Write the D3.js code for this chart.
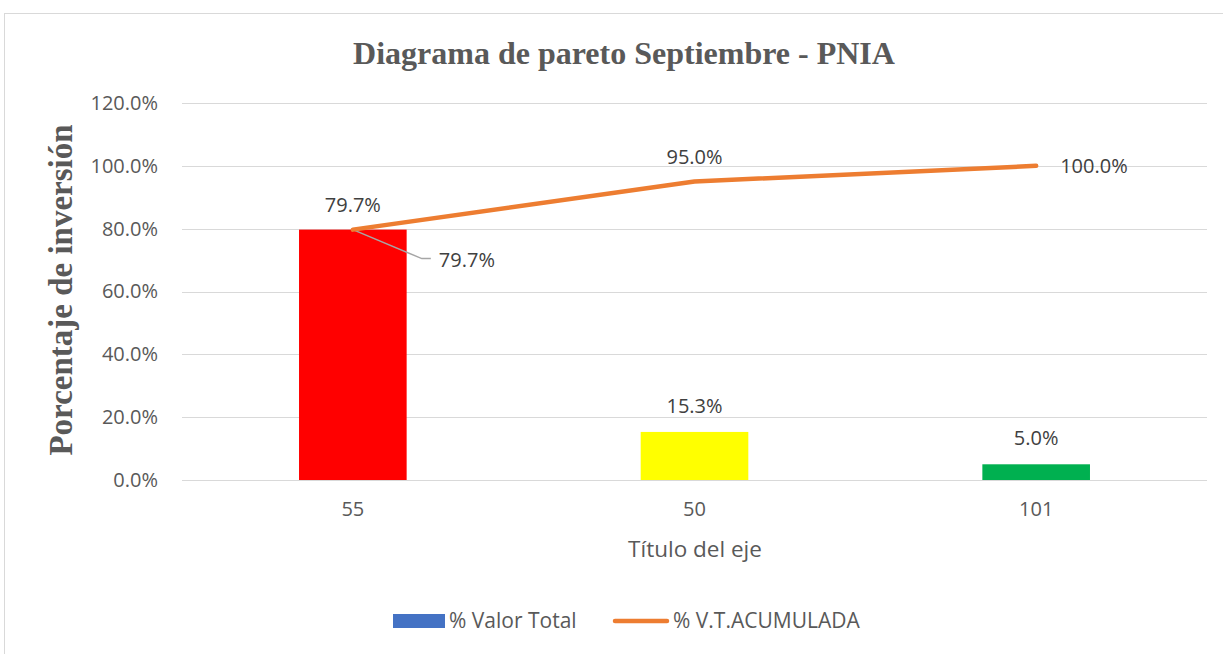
<!DOCTYPE html>
<html>
<head>
<meta charset="utf-8">
<script src="https://cdn.jsdelivr.net/npm/d3@7"></script>
<style>
  body { margin: 0; background: #fff; }
  svg { display: block; }
</style>
</head>
<body>
<svg id="chart"></svg>
<script>
(() => {
  const width = 1223, height = 654;

  // Data
  const categories = ["55", "50", "101"];
  const valorTotal = [0.797, 0.153, 0.050];
  const acumulada = [0.797, 0.950, 1.000];
  const barColors = ["#FF0000", "#FFFF00", "#00B050"];
  const yTicks = [0, 0.2, 0.4, 0.6, 0.8, 1.0, 1.2];

  const TEXT = "#595959";
  const LABEL = "#404040";
  const SANS = "'Open Sans', 'Noto Sans', sans-serif";
  const SERIF = "'Liberation Serif', 'DejaVu Serif', serif";
  const FS = 20;

  const margin = { left: 182, right: 16, top: 103, bottom: 174 };

  const svg = d3.select("#chart").attr("width", width).attr("height", height);

  // chart frame
  svg.append("rect")
    .attr("x", 4.5).attr("y", 13.5)
    .attr("width", width + 10).attr("height", height + 10)
    .attr("fill", "none").attr("stroke", "#d9d9d9");

  const x = d3.scaleBand()
    .domain(categories)
    .range([margin.left, width - margin.right]);

  const y = d3.scaleLinear()
    .domain([0, 1.2])
    .range([height - margin.bottom, margin.top]);

  const fmt = d3.format(".1%");

  // gridlines
  svg.append("g")
    .selectAll("line")
    .data(yTicks)
    .join("line")
    .attr("x1", margin.left).attr("x2", width - margin.right)
    .attr("y1", d => Math.round(y(d)) + 0.5).attr("y2", d => Math.round(y(d)) + 0.5)
    .attr("stroke", "#d9d9d9").attr("stroke-width", 1);

  // y axis labels
  const yAxis = d3.axisLeft(y)
    .tickValues(yTicks)
    .tickFormat(fmt)
    .tickSize(0)
    .tickPadding(24);

  svg.append("g")
    .attr("transform", `translate(${margin.left},0)`)
    .call(yAxis)
    .call(g => g.select(".domain").remove())
    .call(g => g.selectAll("text")
      .attr("font-family", SANS).attr("font-size", FS).attr("fill", TEXT));

  // x axis labels
  const xAxis = d3.axisBottom(x).tickSize(0).tickPadding(22);
  svg.append("g")
    .attr("transform", `translate(0,${y(0)})`)
    .call(xAxis)
    .call(g => g.select(".domain").remove())
    .call(g => g.selectAll("text")
      .attr("font-family", SANS).attr("font-size", FS).attr("fill", TEXT));

  // bars
  const barW = x.bandwidth() * 0.315;
  const cx = d => x(d) + x.bandwidth() / 2;
  svg.append("g")
    .selectAll("rect")
    .data(categories)
    .join("rect")
    .attr("x", d => cx(d) - barW / 2)
    .attr("y", (d, i) => y(valorTotal[i]))
    .attr("width", barW)
    .attr("height", (d, i) => y(0) - y(valorTotal[i]))
    .attr("fill", (d, i) => barColors[i]);

  // bar labels (the first one is a callout)
  svg.append("g")
    .selectAll("text")
    .data(categories.slice(1))
    .join("text")
    .attr("x", d => cx(d))
    .attr("y", d => y(valorTotal[categories.indexOf(d)]) - 19)
    .attr("text-anchor", "middle")
    .attr("font-family", SANS).attr("font-size", FS).attr("fill", LABEL)
    .text(d => fmt(valorTotal[categories.indexOf(d)]));

  const p0 = [cx(categories[0]), y(valorTotal[0])];
  svg.append("path")
    .attr("d", `M${p0[0]},${p0[1]} L${p0[0] + 69},${p0[1] + 29} L${p0[0] + 78},${p0[1] + 29}`)
    .attr("fill", "none").attr("stroke", "#a6a6a6").attr("stroke-width", 1.5);
  svg.append("text")
    .attr("x", p0[0] + 86).attr("y", p0[1] + 37)
    .attr("font-family", SANS).attr("font-size", FS).attr("fill", LABEL)
    .text(fmt(valorTotal[0]));

  // cumulative line
  const line = d3.line()
    .x((d, i) => cx(categories[i]))
    .y(d => y(d));
  svg.append("path")
    .datum(acumulada)
    .attr("d", line)
    .attr("fill", "none")
    .attr("stroke", "#ED7D31").attr("stroke-width", 4.5)
    .attr("stroke-linecap", "round").attr("stroke-linejoin", "round");

  // cumulative labels
  const lineLabels = svg.append("g")
    .attr("font-family", SANS).attr("font-size", FS).attr("fill", LABEL);
  acumulada.forEach((v, i) => {
    const px = cx(categories[i]), py = y(v);
    const last = i === acumulada.length - 1;
    lineLabels.append("text")
      .attr("x", last ? px + 24 : px)
      .attr("y", last ? py + 7 : py - 18)
      .attr("text-anchor", last ? "start" : "middle")
      .text(fmt(v));
  });

  // title
  svg.append("text")
    .attr("x", 624).attr("y", 64)
    .attr("text-anchor", "middle")
    .attr("font-family", SERIF).attr("font-weight", "bold")
    .attr("font-size", 32).attr("fill", TEXT)
    .text("Diagrama de pareto Septiembre - PNIA");

  // y axis title
  svg.append("text")
    .attr("transform", `translate(72,290) rotate(-90)`)
    .attr("text-anchor", "middle")
    .attr("font-family", SERIF).attr("font-weight", "bold")
    .attr("font-size", 33).attr("fill", TEXT)
    .text("Porcentaje de inversión");

  // x axis title
  svg.append("text")
    .attr("x", 695).attr("y", 557)
    .attr("text-anchor", "middle")
    .attr("font-family", SANS).attr("font-size", 22.5).attr("fill", TEXT)
    .text("Título del eje");

  // legend
  const leg = svg.append("g")
    .attr("font-family", SANS).attr("font-size", 21).attr("fill", TEXT);
  leg.append("rect")
    .attr("x", 393).attr("y", 614).attr("width", 52).attr("height", 14)
    .attr("fill", "#4472C4");
  leg.append("text").attr("x", 449).attr("y", 628).text("% Valor Total");
  leg.append("line")
    .attr("x1", 615).attr("x2", 667).attr("y1", 621).attr("y2", 621)
    .attr("stroke", "#ED7D31").attr("stroke-width", 4.5).attr("stroke-linecap", "round");
  leg.append("text").attr("x", 673).attr("y", 628).text("% V.T.ACUMULADA");
})();
</script>
</body>
</html>
